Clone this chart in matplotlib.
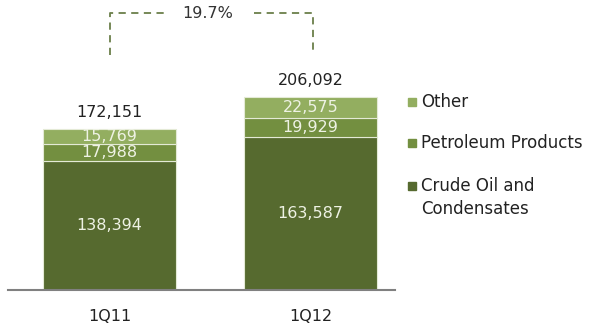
import matplotlib.pyplot as plt
from matplotlib.patches import Rectangle

plt.rcParams['font.family'] = ['DejaVu Sans']

periods = ['1Q11', '1Q12']
crude = [138394, 163587]
petroleum = [17988, 19929]
other = [15769, 22575]
totals = ['172,151', '206,092']
growth = '19.7%'

series = [('Crude Oil and\nCondensates', crude, '#566a2f'),
          ('Petroleum Products', petroleum, '#738f40'),
          ('Other', other, '#93ae60')]

fig = plt.figure(figsize=(5.92, 3.28), dpi=100)
ax = fig.add_axes([8 / 592, 38 / 328, 387 / 592, 290 / 328])
ax.set_xlim(-0.505, 1.42)
ax.set_ylim(0, 310000)

x = list(range(len(periods)))
bottom = [0, 0]
for name, vals, col in series:
    ax.bar(x, vals, width=0.66, bottom=bottom, color=col,
           edgecolor='#e4ead6', linewidth=0.8)
    for i, v in enumerate(vals):
        ax.text(x[i], bottom[i] + v / 2, f'{v:,}', ha='center', va='center',
                color='#eef2e4', fontsize=11.5)
    bottom = [b + v for b, v in zip(bottom, vals)]

for i, t in enumerate(totals):
    ax.text(x[i], bottom[i] + 18000, t, ha='center', va='center',
            color='#222222', fontsize=11.5)

# growth bracket
bc = '#6b7f4a'
ytop, ybot = 296000, 251000
ax.plot([0, 0, 0.29], [ybot, ytop, ytop], ls=(0, (4, 3)), color=bc, lw=1.3)
ax.plot([0.72, 1.01, 1.01], [ytop, ytop, ybot], ls=(0, (4, 3)), color=bc, lw=1.3)
ax.text(0.49, ytop, growth, ha='center', va='center', color='#333333', fontsize=11.5)

for s in ['top', 'right', 'left']:
    ax.spines[s].set_visible(False)
ax.spines['bottom'].set_color('#808080')
ax.spines['bottom'].set_linewidth(1.5)
ax.set_yticks([])
ax.set_xticks(x)
ax.set_xticklabels(periods, fontsize=11.5, color='#222222')
ax.tick_params(axis='x', length=0, pad=14)

# legend
leg = [('Other', 102, series[2][2]),
       ('Petroleum Products', 143, series[1][2]),
       ('Crude Oil and\nCondensates', 186, series[0][2])]
for label, ypx, col in leg:
    fig.add_artist(Rectangle((408 / 592, 1 - (ypx + 4) / 328), 8 / 592, 8 / 328,
                             color=col, transform=fig.transFigure))
    fig.text(421 / 592, 1 - (ypx - 9) / 328, label, ha='left', va='top',
             fontsize=12, color='#222222', linespacing=1.35)

fig.savefig('out.png')
